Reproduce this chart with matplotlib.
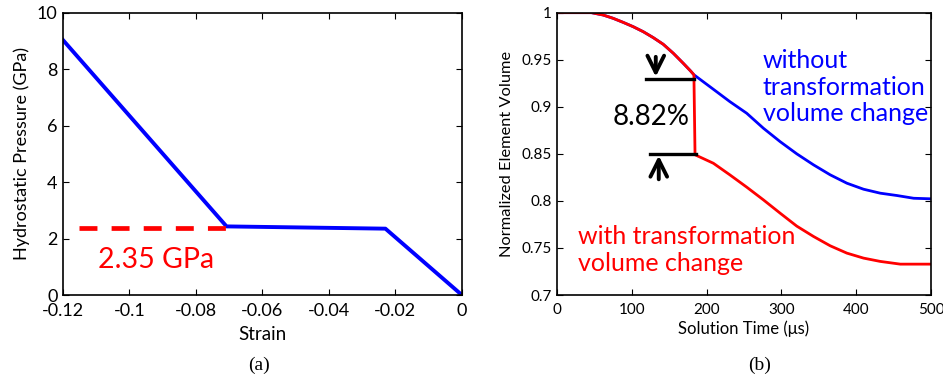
import matplotlib
matplotlib.use("Agg")
import matplotlib.pyplot as plt

plt.rcParams['font.family'] = ['Lato', 'DejaVu Sans']

# Panel (a)
strain = [-0.12, -0.0708, -0.023, 0.0]
pressure = [9.03, 2.43, 2.35, 0.0]
dash_x = [-0.1152, -0.0708]
dash_y = [2.38, 2.38]
a_xticks = [-0.12, -0.1, -0.08, -0.06, -0.04, -0.02, 0]
a_xticklabels = ['-0.12', '-0.1', '-0.08', '-0.06', '-0.04', '-0.02', '0']
a_yticks = [0, 2, 4, 6, 8, 10]

# Panel (b)
t_red = [0, 46, 61.6, 75, 88.4, 101.8, 115.2, 128.6, 142, 155.4, 168.75, 178.6, 183,
         184.5, 209, 231, 253.6, 275.9, 298.2, 320.5, 342.9, 365.2, 387.5, 409.8, 432.1,
         458.9, 500]
v_red = [1.0, 1.0, 0.9975, 0.994, 0.9897, 0.9851, 0.9798, 0.9735, 0.9664, 0.9569, 0.9462,
         0.938, 0.934, 0.849, 0.84, 0.8277, 0.8146, 0.8011, 0.787, 0.7732, 0.7622, 0.7523,
         0.7445, 0.7392, 0.7357, 0.7328, 0.7328]
t_blue = [0, 46, 61.6, 75, 88.4, 101.8, 115.2, 128.6, 142, 155.4, 168.75, 178.6, 183,
          209, 231, 253.6, 275.9, 298.2, 320.5, 342.9, 365.2, 387.5, 409.8, 432.1, 454.5,
          476.8, 500]
v_blue = [1.0, 1.0, 0.9975, 0.994, 0.9897, 0.9851, 0.9798, 0.9735, 0.9664, 0.9569, 0.9462,
          0.938, 0.934, 0.9186, 0.9055, 0.8931, 0.8772, 0.863, 0.85, 0.8383, 0.8277, 0.8188,
          0.8124, 0.8082, 0.8057, 0.8028, 0.8022]
b_xticks = [0, 100, 200, 300, 400, 500]
b_yticks = [0.7, 0.75, 0.8, 0.85, 0.9, 0.95, 1.0]
b_yticklabels = ['0.7', '0.75', '0.8', '0.85', '0.9', '0.95', '1']

fig = plt.figure(figsize=(9.43, 3.79), dpi=100)
axa = fig.add_axes([0.0668, 0.2216, 0.423, 0.745])
axb = fig.add_axes([0.5907, 0.2216, 0.3966, 0.745])

for ax in (axa, axb):
    ax.tick_params(direction='in', top=True, right=True, length=4, width=0.8)
    for s in ax.spines.values():
        s.set_linewidth(1.2)

# (a)
axa.plot(strain, pressure, color='#0000ff', lw=2.8, solid_joinstyle='round')
axa.plot(dash_x, dash_y, color='#ff0000', lw=3.4, dashes=(3.8, 3.0))
axa.text(-0.1094, 1.23, '2.35 GPa', color='#ff0000', fontsize=20.5, va='center', ha='left')
axa.set_xlim(-0.12, 0)
axa.set_ylim(0, 10)
axa.set_xticks(a_xticks)
axa.set_xticklabels(a_xticklabels)
axa.set_yticks(a_yticks)
axa.tick_params(labelsize=13)
axa.tick_params(axis='x', pad=6)
axa.tick_params(axis='y', pad=4)
axa.set_xlabel('Strain', fontsize=13.5, labelpad=5)
axa.set_ylabel('Hydrostatic Pressure (GPa)', fontsize=13, labelpad=5)

# (b)
axb.plot(t_blue, v_blue, color='#0000ff', lw=2.0)
axb.plot(t_red, v_red, color='#ff0000', lw=2.0)
axb.plot([119, 183], [0.93, 0.93], color='black', lw=2.4)
axb.plot([124, 186], [0.85, 0.85], color='black', lw=2.4)
axb.annotate('', xy=(132, 0.929), xytext=(132, 0.956),
             arrowprops=dict(arrowstyle='->', color='black', lw=2.8, mutation_scale=30))
axb.annotate('', xy=(136, 0.851), xytext=(136, 0.820),
             arrowprops=dict(arrowstyle='->', color='black', lw=2.8, mutation_scale=30))
axb.text(126, 0.8896, '8.82%', fontsize=20, ha='center', va='center', color='black')
axb.text(275, 0.921, 'without\ntransformation\nvolume change', color='#0000ff', fontsize=18,
         ha='left', va='center', linespacing=1.2)
axb.text(28, 0.748, 'with transformation\nvolume change', color='#ff0000', fontsize=18,
         ha='left', va='center', linespacing=1.2)
axb.set_xlim(0, 500)
axb.set_ylim(0.7, 1.0)
axb.set_xticks(b_xticks)
axb.set_yticks(b_yticks)
axb.set_yticklabels(b_yticklabels)
axb.tick_params(labelsize=11)
axb.tick_params(axis='x', pad=6)
axb.tick_params(axis='y', pad=4)
axb.set_xlabel('Solution Time (\u03bcs)', fontsize=12, labelpad=2)
axb.set_ylabel('Normalized Element Volume', fontsize=11.8, labelpad=5)

fig.text(259 / 943, 1 - 365 / 379, '(a)', fontsize=14, family='Liberation Serif', ha='center', va='center')
fig.text(760 / 943, 1 - 365 / 379, '(b)', fontsize=14, family='Liberation Serif', ha='center', va='center')

fig.savefig('out.png', dpi=100)
